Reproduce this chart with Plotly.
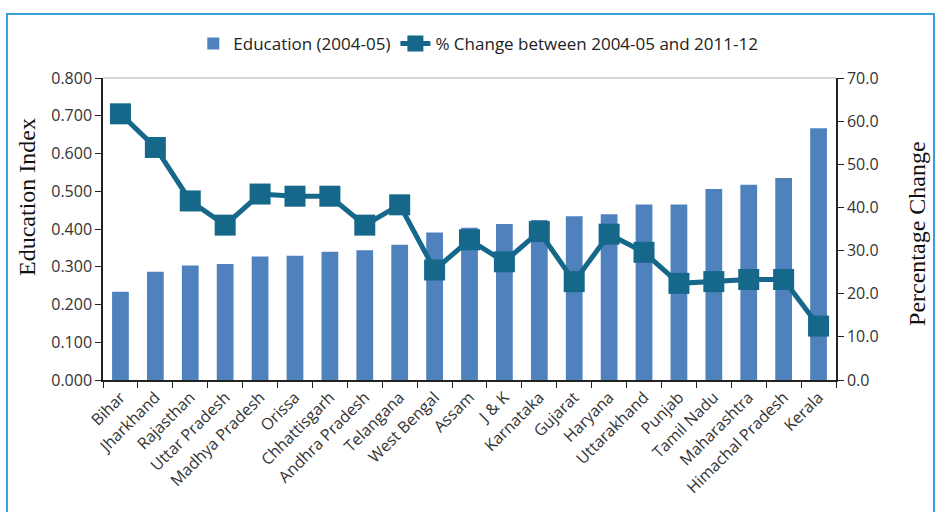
import plotly.graph_objects as go

states = ["Bihar", "Jharkhand", "Rajasthan", "Uttar Pradesh", "Madhya Pradesh", "Orissa",
          "Chhattisgarh", "Andhra Pradesh", "Telangana", "West Bengal", "Assam", "J & K",
          "Karnataka", "Gujarat", "Haryana", "Uttarakhand", "Punjab", "Tamil Nadu",
          "Maharashtra", "Himachal Pradesh", "Kerala"]
education_2004_05 = [0.234, 0.287, 0.303, 0.307, 0.327, 0.329, 0.340, 0.344, 0.358, 0.391,
                     0.403, 0.413, 0.424, 0.434, 0.439, 0.465, 0.465, 0.506, 0.517, 0.535, 0.667]
pct_change = [61.7, 53.9, 41.5, 35.9, 43.1, 42.6, 42.6, 35.9, 40.6, 25.5,
              32.5, 27.4, 34.4, 22.8, 33.8, 29.6, 22.4, 22.8, 23.3, 23.3, 12.5]
left_ticks = [0.0, 0.1, 0.2, 0.3, 0.4, 0.5, 0.6, 0.7, 0.8]
right_ticks = [0, 10, 20, 30, 40, 50, 60, 70]

BAR = "#4F81BD"
LINE = "#15688A"
TXT = "#333333"
FONT = "Open Sans"

fig = go.Figure()
fig.add_trace(go.Bar(x=states, y=education_2004_05, name="Education (2004-05)",
                     marker=dict(color=BAR, line=dict(width=0)), yaxis="y"))
fig.add_trace(go.Scatter(x=states, y=pct_change, name="% Change between 2004-05 and 2011-12",
                         mode="lines+markers", yaxis="y2",
                         line=dict(color=LINE, width=5),
                         marker=dict(symbol="square", size=21, color=LINE)))

fig.update_layout(
    width=939, height=512,
    margin=dict(l=103, r=103, t=78, b=132),
    paper_bgcolor="white", plot_bgcolor="white",
    bargap=0.52,
    showlegend=True,
    legend=dict(orientation="h", x=0.512, xanchor="center", y=1.113, yanchor="middle",
                font=dict(family=FONT, size=17, color="#222"), bgcolor="rgba(0,0,0,0)",
                itemwidth=30),
    xaxis=dict(type="category", range=[-0.5, len(states) - 0.5], tickangle=-45,
               tickson="boundaries", ticks="outside",
               ticklen=6, tickcolor="#222", showline=True, linecolor="#222", linewidth=1.5,
               showgrid=False, tickfont=dict(family=FONT, size=16, color=TXT)),
    yaxis=dict(range=[0, 0.8], tickvals=left_ticks, tickformat=".3f", ticks="outside",
               ticklen=6, tickcolor="#222", showline=True, linecolor="#222", linewidth=1.5,
               showgrid=False, zeroline=False, tickfont=dict(family=FONT, size=16, color=TXT)),
    yaxis2=dict(range=[0, 70], tickvals=right_ticks, tickformat=".1f", overlaying="y",
                side="right", ticks="outside", ticklen=6, tickcolor="#222", showline=True,
                linecolor="#222", linewidth=1.5, showgrid=False, zeroline=False,
                tickfont=dict(family=FONT, size=16, color=TXT)),
    shapes=[
        dict(type="line", xref="paper", yref="paper", x0=0, x1=1, y0=1, y1=1,
             line=dict(color="#C8C8C8", width=1.5)),
        dict(type="rect", xref="paper", yref="paper", x0=-0.131, x1=1.1337, y0=-0.5, y1=1.212,
             line=dict(color="#3AA0DA", width=2), layer="below"),
    ],
    annotations=[
        dict(text="Education Index", xref="paper", yref="paper", x=-0.1037, y=0.606,
             xanchor="center", yanchor="middle", textangle=-90, showarrow=False,
             font=dict(family="Liberation Serif", size=24, color="#111")),
        dict(text="Percentage Change", xref="paper", yref="paper", x=1.1105, y=0.487,
             xanchor="center", yanchor="middle", textangle=-90, showarrow=False,
             font=dict(family="Liberation Serif", size=24, color="#111")),
    ],
)

fig.write_html("out.html")
